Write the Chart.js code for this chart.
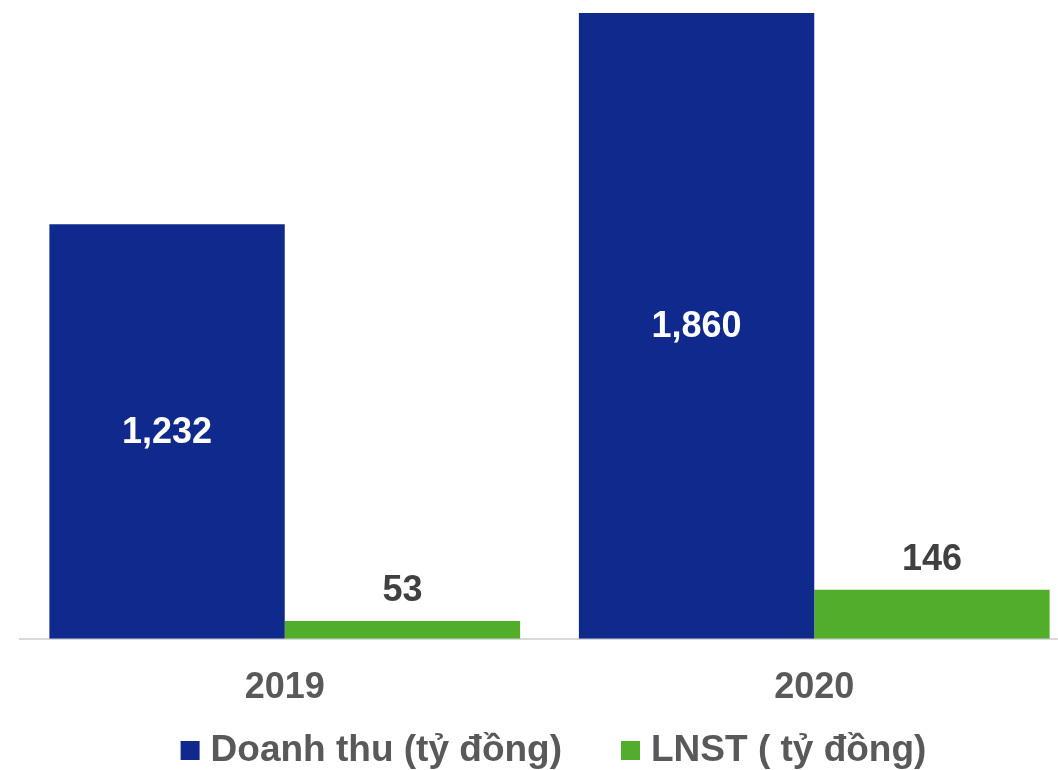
<!DOCTYPE html>
<html>
<head>
<meta charset="utf-8">
<script src="https://cdn.jsdelivr.net/npm/chart.js@4.4.1/dist/chart.umd.min.js"></script>
<style>
  html, body { margin: 0; padding: 0; background: #fff; overflow: hidden; }
</style>
</head>
<body>
<canvas id="revenueChart" width="1080" height="770"></canvas>
<script>
// Daten
const years = ['2019', '2020'];
const doanhThu = [1232, 1860];
const lnst = [53, 146];
const seriesNames = ['Doanh thu (tỷ đồng)', 'LNST ( tỷ đồng)'];

const FONT = '"Liberation Sans", Arial, sans-serif';

// Werte an den Balken
const valueLabels = {
  id: 'valueLabels',
  afterDatasetsDraw(chart) {
    const c = chart.ctx;
    c.save();
    c.font = 'bold 36px ' + FONT;
    c.textAlign = 'center';
    c.textBaseline = 'middle';
    chart.data.datasets.forEach((ds, i) => {
      chart.getDatasetMeta(i).data.forEach((bar, j) => {
        const txt = ds.data[j].toLocaleString('en-US');
        if (i === 0) {
          c.fillStyle = '#ffffff';
          c.fillText(txt, bar.x, (bar.y + bar.base) / 2 + 1);
        } else {
          c.fillStyle = '#404040';
          c.fillText(txt, bar.x, bar.y - 30);
        }
      });
    });
    c.restore();
  }
};

// eigene Legende unten
const bottomLegend = {
  id: 'bottomLegend',
  afterDraw(chart) {
    const c = chart.ctx;
    const box = 19, gapText = 11, gapItem = 59;
    c.save();
    c.font = 'bold 37px ' + FONT;
    c.textBaseline = 'middle';
    c.textAlign = 'left';
    const items = chart.data.datasets.map(ds => ({ label: ds.label, color: ds.backgroundColor, w: c.measureText(ds.label).width }));
    let total = 0;
    items.forEach((it, k) => { total += box + gapText + it.w + (k ? gapItem : 0); });
    const ca = chart.chartArea;
    let x = (ca.left + ca.right) / 2 + 4 - total / 2;
    const y = 750;
    items.forEach(it => {
      c.fillStyle = it.color;
      c.fillRect(x, y - 9, box, box);
      x += box + gapText;
      c.fillStyle = '#595959';
      c.fillText(it.label, x, y + 1);
      x += it.w + gapItem;
    });
    c.restore();
  }
};

const ctx = document.getElementById('revenueChart').getContext('2d');
const revenueChart = new Chart(ctx, {
  type: 'bar',
  data: {
    labels: years,
    datasets: [{
      label: seriesNames[0],
      data: doanhThu,
      backgroundColor: '#10298c',
      categoryPercentage: 0.889,
      barPercentage: 1.0
    }, {
      label: seriesNames[1],
      data: lnst,
      backgroundColor: '#52ae2a',
      categoryPercentage: 0.889,
      barPercentage: 1.0
    }]
  },
  options: {
    responsive: false,
    animation: false,
    layout: {
      padding: { left: 20, right: 1, top: 0, bottom: 40 }
    },
    plugins: {
      legend: { display: false },
      tooltip: { enabled: false }
    },
    scales: {
      x: {
        grid: { display: false },
        border: { display: true, color: '#d9d9d9', width: 2 },
        ticks: {
          color: '#595959',
          padding: 20,
          font: { family: FONT, size: 36, weight: 'bold' }
        }
      },
      y: {
        display: false,
        min: 0,
        max: 1899
      }
    }
  },
  plugins: [valueLabels, bottomLegend]
});
</script>
</body>
</html>
